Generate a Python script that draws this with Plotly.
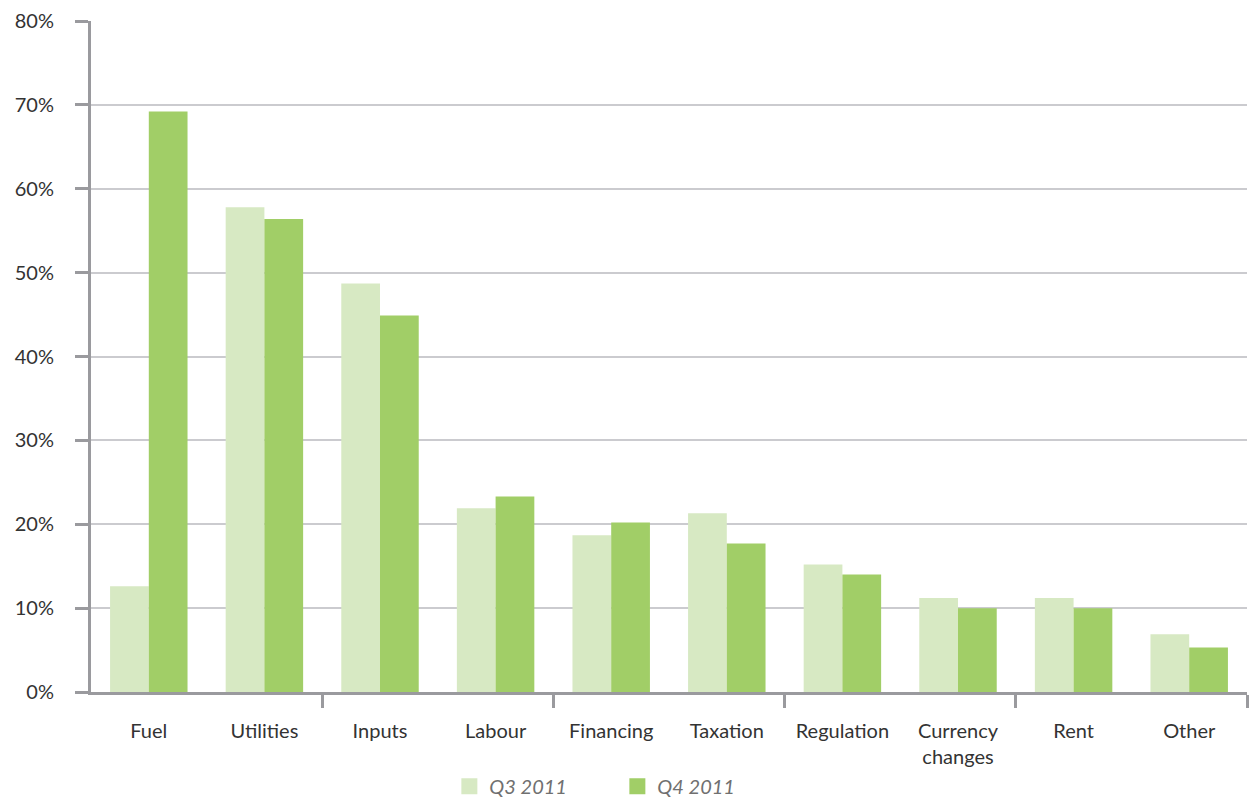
import plotly.graph_objects as go

categories = ["Fuel", "Utilities", "Inputs", "Labour", "Financing", "Taxation",
              "Regulation", "Currency<br>changes", "Rent", "Other"]
q3_2011 = [12.6, 57.8, 48.7, 21.9, 18.7, 21.3, 15.2, 11.2, 11.2, 6.9]
q4_2011 = [69.2, 56.4, 44.9, 23.3, 20.2, 17.7, 14.0, 10.0, 10.0, 5.3]
series_names = ["Q3 2011", "Q4 2011"]
y_ticks = [0, 10, 20, 30, 40, 50, 60, 70, 80]
y_tick_labels = ["0%", "10%", "20%", "30%", "40%", "50%", "60%", "70%", "80%"]

C_Q3 = "#d7e9c3"
C_Q4 = "#a1ce67"
AXIS = "#9a9a9e"
GRID = "#cbcbcf"
FONT = "Lato"

idx = list(range(len(categories)))

fig = go.Figure()
fig.add_trace(go.Bar(x=idx, y=q3_2011, name=series_names[0], marker_color=C_Q3,
                     marker_line_width=0, showlegend=False))
fig.add_trace(go.Bar(x=idx, y=q4_2011, name=series_names[1], marker_color=C_Q4,
                     marker_line_width=0, showlegend=False))
# legend entries with larger square swatches
for nm, col in zip(series_names, [C_Q3, C_Q4]):
    fig.add_trace(go.Scatter(x=[None], y=[None], mode="markers", name=nm,
                             marker=dict(symbol="square", size=16, color=col)))

fig.update_layout(
    width=1249, height=799,
    margin=dict(l=91, r=2, t=21, b=107, autoexpand=False),
    paper_bgcolor="white", plot_bgcolor="white",
    barmode="group", bargap=0.33, bargroupgap=0,
    font=dict(family=FONT, size=20, color="#333333"),
    showlegend=True,
    legend=dict(orientation="h", x=0.310, xanchor="left", y=-0.1405, yanchor="middle",
                font=dict(family=FONT, size=20, color="#707070", style="italic"),
                entrywidth=123, entrywidthmode="pixels", bgcolor="rgba(0,0,0,0)",
                borderwidth=0, tracegroupgap=0),
)

fig.update_xaxes(
    range=[-0.5, 9.5], tickvals=idx, ticktext=categories, ticks="",
    showgrid=False, zeroline=False, automargin=False,
    showline=True, linecolor=AXIS, linewidth=3,
    ticklabelstandoff=19,
    tickfont=dict(family=FONT, size=20, color="#333333"),
    minor=dict(tickvals=[1.5, 3.5, 5.5, 7.5, 9.5], ticks="outside", ticklen=13,
               tickwidth=3, tickcolor=AXIS, showgrid=False),
)
fig.update_yaxes(
    range=[0, 80], tickvals=y_ticks, ticktext=y_tick_labels,
    ticks="outside", ticklen=13, tickwidth=3, tickcolor=AXIS,
    showline=True, linecolor=AXIS, linewidth=3, automargin=False,
    showgrid=True, gridcolor=GRID, gridwidth=1.5, zeroline=False,
    ticklabelstandoff=17,
    tickfont=dict(family=FONT, size=20, color="#333333"),
)

fig.write_html("out.html")
